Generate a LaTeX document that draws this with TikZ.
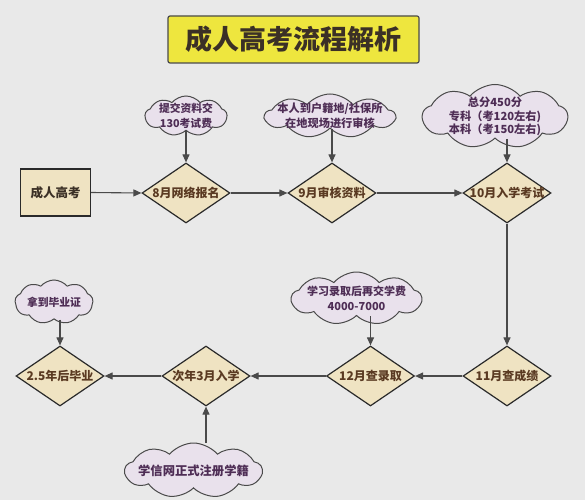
\documentclass[tikz,border=0pt]{standalone}
\usepackage{fontspec}
\setmainfont{Noto Sans CJK SC}
\usetikzlibrary{shapes.geometric,shapes.symbols,arrows.meta}
\definecolor{bg}{HTML}{E9E9E9}
\definecolor{diafill}{HTML}{EFE3C2}
\definecolor{cloudfill}{HTML}{E9E1EC}
\definecolor{linec}{HTML}{4A4A4A}
\definecolor{edgec}{HTML}{2A2A2A}
\definecolor{diatext}{HTML}{5A3A22}
\definecolor{cloudtext}{HTML}{4E2D55}
\definecolor{titlefill}{HTML}{EEE63E}
\definecolor{titletext}{HTML}{3B3026}
\tikzset{
  x=1pt,y=-1pt,
  dia/.style={diamond,draw=edgec,line width=1.2pt,fill=diafill,minimum width=88pt,minimum height=60pt,inner sep=0pt},
  diatxt/.style={font=\fontsize{12}{13}\selectfont\bfseries,text=diatext,inner sep=0pt},
  cld/.style={cloud,cloud puffs=9,cloud puff arc=100,draw=linec,line width=1pt,fill=cloudfill,inner sep=0pt},
  cldtxt/.style={font=\fontsize{11}{15}\selectfont\bfseries,text=cloudtext,align=center,inner sep=0pt},
  conn/.style={draw=linec,line width=1.1pt,-{Triangle[length=8pt,width=7pt]}},
}
\begin{document}
\begin{tikzpicture}
\fill[bg] (0,0) rectangle (585,500);
\useasboundingbox (0,0) rectangle (585,500);
% title
\node[draw=linec,line width=1.2pt,fill=titlefill,rounded corners=2pt,minimum width=251pt,minimum height=47pt,
  font=\fontsize{27}{30}\selectfont\bfseries,text=titletext] (title) at (293.5,39.5) {成人高考流程解析};
% start box
\node[draw=edgec,line width=1.2pt,fill=diafill,minimum width=70pt,minimum height=47pt,
  font=\fontsize{12.5}{14}\selectfont\bfseries,text=titletext] (start) at (55.5,192.5) {成人高考};
% top diamonds
\node[dia] (d1) at (186,193) {};
\node[diatxt] (t1) at (d1) {8月网络报名};
\node[dia] (d2) at (332,193) {};
\node[diatxt] (t2) at (d2) {9月审核资料};
\node[dia] (d3) at (507,193) {};
\node[diatxt] (t3) at (d3) {10月入学考试};
% bottom diamonds
\node[dia] (d4) at (507,376) {};
\node[diatxt] (t4) at (d4) {11月查成绩};
\node[dia] (d5) at (370.5,376) {};
\node[diatxt] (t5) at (d5) {12月查录取};
\node[dia] (d6) at (206,376) {};
\node[diatxt] (t6) at (d6) {次年3月入学};
\node[dia] (d7) at (60,376) {};
\node[diatxt] (t7) at (d7) {2.5年后毕业};
% clouds
\node[cld,minimum width=82pt,minimum height=40pt] (c1) at (186,116) {};
\node[cldtxt,font=\fontsize{10.8}{14.5}\selectfont\bfseries] (ct1) at (c1) {提交资料交\\130考试费};
\node[cld,minimum width=130pt,minimum height=44pt] (c2) at (330,116) {};
\node[cldtxt,font=\fontsize{11.2}{15}\selectfont\bfseries] (ct2) at (c2) {本人到户籍地/社保所\\在地现场进行审核};
\node[cld,minimum width=145pt,minimum height=64pt] (c3) at (495,116.5) {};
\node[cldtxt,font=\fontsize{11.2}{13.5}\selectfont\bfseries] (ct3) at (c3) {总分450分\\专科（考120左右)\\本科（考150左右)};
\node[cld,minimum width=78pt,minimum height=44pt] (c4) at (54,302) {};
\node[cldtxt,font=\fontsize{10.8}{14}\selectfont\bfseries] (ct4) at (c4) {拿到毕业证};
\node[cld,minimum width=130pt,minimum height=53pt] (c5) at (356.5,298.5) {};
\node[cldtxt] (ct5) at (c5) {学习录取后再交学费\\4000-7000};
\node[cld,minimum width=137pt,minimum height=55pt] (c6) at (193.5,470.5) {};
\node[cldtxt,font=\fontsize{12.3}{15}\selectfont\bfseries] (ct6) at (c6) {学信网正式注册学籍};
% connectors
\draw[conn] (start.east) -- (d1.west);
\draw[conn] (d1.east) -- (d2.west);
\draw[conn] (d2.east) -- (d3.west);
\draw[conn] (d3.south) -- (d4.north);
\draw[conn] (d4.west) -- (d5.east);
\draw[conn] (d5.west) -- (d6.east);
\draw[conn] (d6.west) -- (d7.east);
\draw[conn] (d1.north |- c1.south) -- (d1.north);
\draw[conn] (d2.north |- c2.south) -- (d2.north);
\draw[conn] (d3.north |- c3.south) -- (d3.north);
\draw[conn] (d7.north |- c4.south) -- (d7.north);
\draw[conn] (d5.north |- c5.south) -- (d5.north);
\draw[conn] (d6.south |- c6.north) -- (d6.south);
\end{tikzpicture}
\end{document}
